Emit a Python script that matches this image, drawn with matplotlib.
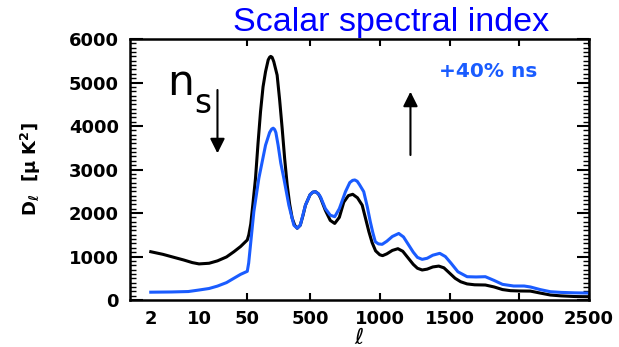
import numpy as np
import matplotlib
matplotlib.use("Agg")
import matplotlib.pyplot as plt
from matplotlib.ticker import MultipleLocator, NullLocator, FixedLocator

plt.rcParams['font.family'] = ['DejaVu Sans']
plt.rcParams['mathtext.default'] = 'regular'

# fiducial spectrum (black)
ell_ref = [2, 3, 4.35, 6, 8, 10, 14, 18.5, 25, 32, 40, 50, 61, 75, 90, 109, 127, 145,
           163, 181, 200, 210, 218, 228, 240, 264, 282, 300, 318, 336, 354, 372, 390,
           408, 430, 450, 467, 500, 520, 539, 560, 575, 610, 645, 677, 710, 742, 775,
           806, 840, 874, 900, 922, 945, 970, 1000, 1020, 1050, 1090, 1130, 1165, 1200,
           1240, 1270, 1304, 1340, 1380, 1423, 1460, 1500, 1540, 1580, 1626, 1680, 1757,
           1820, 1880, 1937, 2000, 2080, 2150, 2223, 2300, 2400, 2500]
dl_ref = [1110, 1050, 980, 920, 860, 830, 845, 900, 990, 1110, 1230, 1380, 1500, 1750,
          2200, 2800, 3600, 4330, 4900, 5250, 5520, 5580, 5600, 5580, 5480, 5170, 4600,
          3950, 3250, 2650, 2200, 1880, 1720, 1650, 1720, 1950, 2180, 2420, 2480, 2490,
          2440, 2350, 2060, 1830, 1760, 1900, 2250, 2400, 2430, 2350, 2180, 1850, 1570,
          1320, 1130, 1040, 1020, 1060, 1140, 1180, 1120, 980, 820, 730, 690, 710, 760,
          780, 740, 620, 500, 420, 370, 350, 345, 300, 240, 215, 208, 205, 160, 115, 95,
          80, 75]

# +40% ns spectrum (blue)
ell_ns = [2, 4, 7, 10, 14, 18.5, 25, 32, 40, 50, 60, 73, 97, 133, 181, 210, 225, 236,
          246, 255, 271, 290, 312, 348, 384, 408, 430, 467, 500, 520, 539, 560, 575,
          610, 645, 677, 710, 754, 785, 805, 821, 838, 855, 885, 910, 932, 950, 968,
          990, 1017, 1050, 1090, 1136, 1170, 1200, 1240, 1270, 1304, 1340, 1380, 1430,
          1470, 1510, 1560, 1626, 1690, 1757, 1820, 1880, 1960, 2035, 2080, 2150, 2223,
          2300, 2400, 2500]
dl_ns = [180, 185, 195, 230, 265, 320, 400, 500, 590, 660, 850, 1264, 2030, 2800, 3560,
         3850, 3930, 3950, 3920, 3850, 3560, 3150, 2800, 2180, 1720, 1650, 1720, 2180,
         2420, 2480, 2490, 2440, 2370, 2100, 1950, 1915, 2100, 2490, 2700, 2750, 2760,
         2730, 2650, 2490, 2150, 1800, 1550, 1340, 1290, 1280, 1350, 1460, 1530, 1450,
         1300, 1100, 980, 935, 960, 1030, 1073, 1000, 850, 650, 536, 530, 536, 450, 360,
         322, 322, 300, 240, 191, 175, 165, 160]

xtick_vals = [2, 10, 50, 500, 1000, 1500, 2000, 2500]
xtick_labels = ['2', '10', '50', '500', '1000', '1500', '2000', '2500']
ytick_vals = [0, 1000, 2000, 3000, 4000, 5000, 6000]

BLUE = '#1a5cff'


# hybrid axis: log below l=50, linear above
def fwd(l):
    l = np.asarray(l, dtype=float)
    return np.where(l < 50, 50 + 495 * np.log10(np.clip(l, 1e-3, None) / 50.), l)


def inv(u):
    u = np.asarray(u, dtype=float)
    return np.where(u < 50, 50 * 10 ** ((u - 50) / 495.), u)


fig = plt.figure(figsize=(6.19, 3.47), dpi=100)
ax = fig.add_axes([0.2100, 0.1354, 0.7415, 0.7522])
ax.set_xscale('function', functions=(fwd, inv))

ax.plot(ell_ref, dl_ref, color='black', lw=2.2, solid_joinstyle='round')
ax.plot(ell_ns, dl_ns, color=BLUE, lw=2.2, solid_joinstyle='round')

ax.set_xlim(1, 2500)
ax.set_ylim(0, 6000)

ax.xaxis.set_major_locator(FixedLocator(xtick_vals))
ax.set_xticklabels(xtick_labels)
ax.xaxis.set_minor_locator(NullLocator())
ax.set_yticks(ytick_vals)
ax.yaxis.set_minor_locator(MultipleLocator(100))

ax.tick_params(axis='both', which='both', direction='in')
ax.tick_params(axis='x', which='major', top=True, bottom=True, length=5, width=1.5, pad=7)
ax.tick_params(axis='y', which='major', left=True, right=True, length=9, width=1.5, pad=8)
ax.tick_params(axis='y', which='minor', left=True, right=True, length=4, width=1)
for i, t in enumerate(ax.xaxis.get_major_ticks()):
    if xtick_vals[i] < 50:
        t.tick1line.set_visible(False)
        t.tick2line.set_visible(False)

for lab in ax.get_xticklabels() + ax.get_yticklabels():
    lab.set_fontsize(13)
    lab.set_fontweight('bold')

for s in ax.spines.values():
    s.set_linewidth(1.8)

ax.set_xlabel(r'$\ell$', fontsize=16, labelpad=0)
ax.set_ylabel(r'D$_\ell$  [$\mu$ K$^2$]', fontsize=13, fontweight='bold')
ax.yaxis.set_label_coords(-0.19, 0.5)

fig.text(391 / 619, 1 - 30.7 / 347, 'Scalar spectral index', color='#0000ff',
         fontsize=24.5, family='Liberation Sans', ha='center', va='baseline')

# n_s annotation with down arrow
ax.text(3.5, 4713, 'n', fontsize=30.5, ha='left', va='baseline')
ax.text(8.4, 4292, 's', fontsize=23.5, ha='left', va='baseline')
ax.annotate('', xy=(18.5, 3372), xytext=(18.5, 4828),
            arrowprops=dict(arrowstyle='-|>', color='black', lw=1.5,
                            mutation_scale=22, shrinkA=0, shrinkB=0))
ax.annotate('', xy=(1220, 4789), xytext=(1220, 3333),
            arrowprops=dict(arrowstyle='-|>', color='black', lw=1.5,
                            mutation_scale=22, shrinkA=0, shrinkB=0))
ax.text(1423, 5120, '+40% ns', color=BLUE, fontsize=14.5, fontweight='bold',
        ha='left', va='baseline')

fig.savefig('out.png', dpi=100)
